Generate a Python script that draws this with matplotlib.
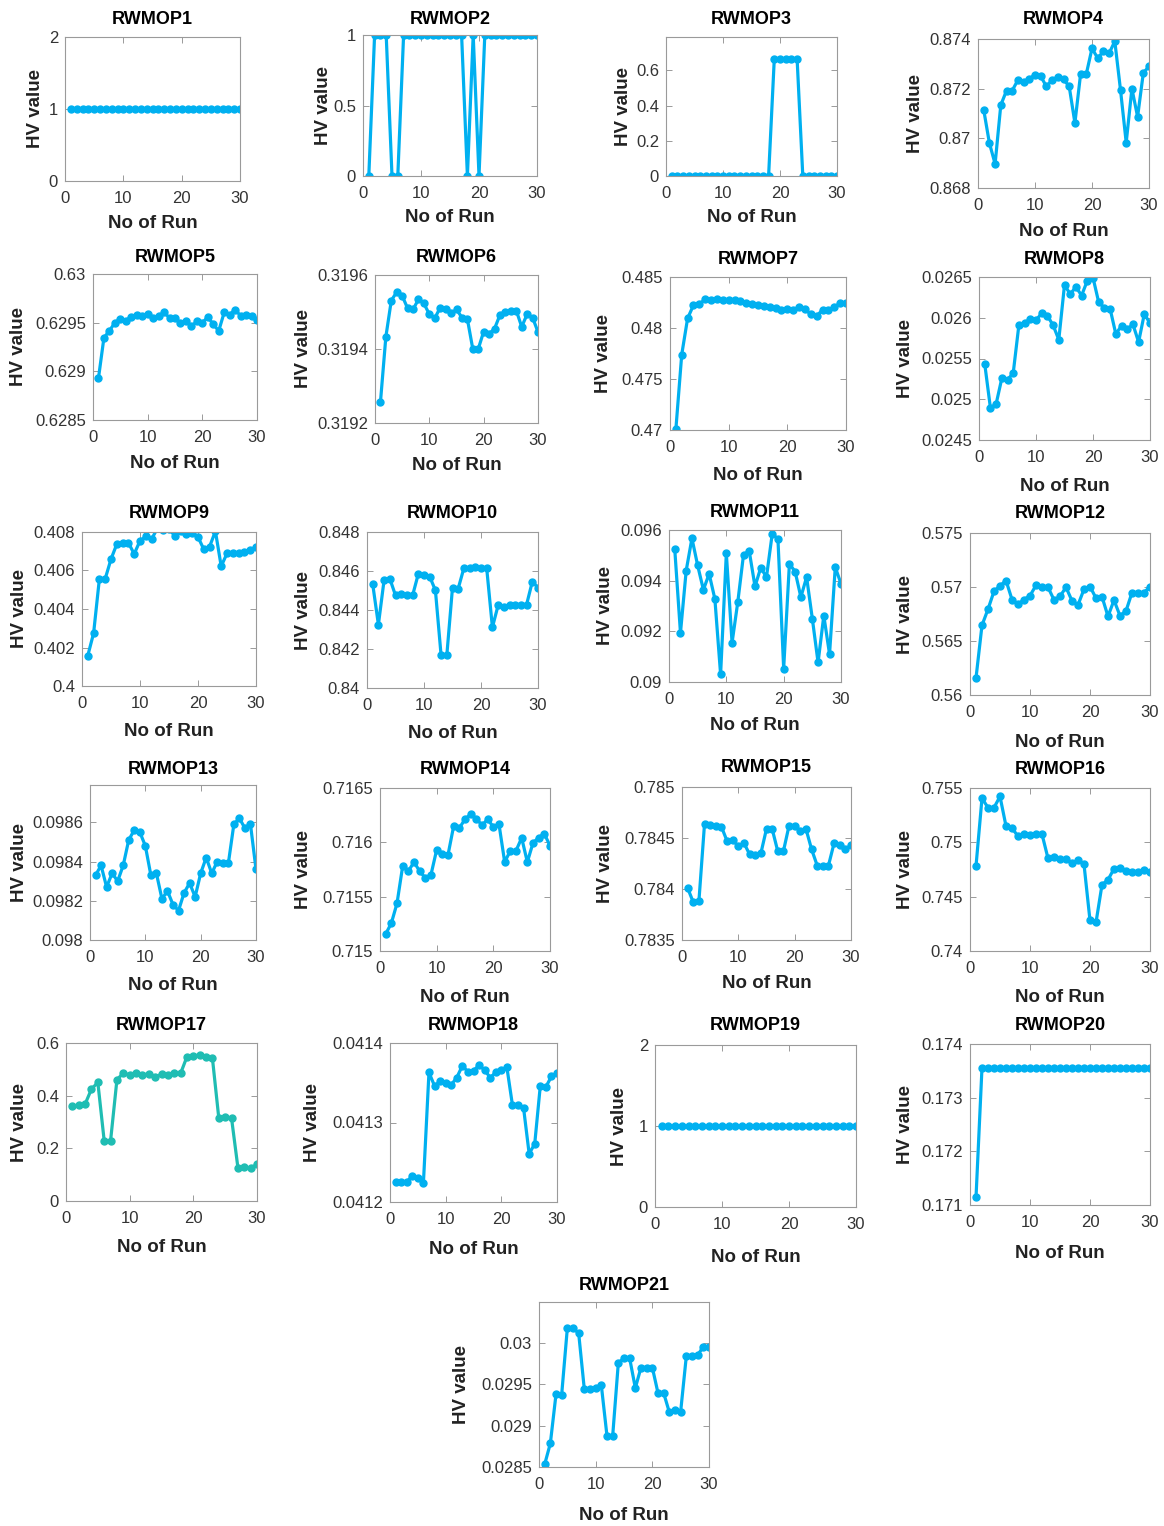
import matplotlib
matplotlib.use("Agg")
import matplotlib.pyplot as plt
from matplotlib.ticker import FuncFormatter

plt.rcParams['font.family'] = ['Liberation Sans', 'DejaVu Sans']

runs = list(range(1, 31))

titles = [f"RWMOP{i}" for i in range(1, 22)]

rwmop1 = [1.0] * 30
rwmop2 = [0, 1, 1, 1, 0, 0, 1, 1, 1, 1, 1, 1, 1, 1, 1, 1, 1, 0, 1, 0,
          1, 1, 1, 1, 1, 1, 1, 1, 1, 1]
rwmop3 = [0] * 18 + [0.6667] * 5 + [0] * 7
rwmop4 = [0.87115, 0.86981, 0.86897, 0.87134, 0.87192, 0.87192, 0.87235, 0.87227, 0.8724, 0.87256,
          0.8725, 0.87209, 0.87235, 0.87247, 0.87238, 0.87209, 0.87062, 0.87259, 0.87259, 0.87362,
          0.87323, 0.8735, 0.87342, 0.87391, 0.87195, 0.86983, 0.872, 0.87087, 0.87263, 0.8729]
rwmop5 = [0.62893, 0.629345, 0.629416, 0.6295, 0.629537, 0.62952, 0.62956, 0.629578, 0.62957, 0.629588,
          0.629544, 0.629568, 0.629605, 0.62955, 0.629544, 0.629497, 0.62952, 0.629463, 0.629514, 0.6295,
          0.629557, 0.629483, 0.629416, 0.629605, 0.629581, 0.629635, 0.62957, 0.62958, 0.629564, 0.62953]
rwmop6 = [0.319256, 0.319433, 0.319531, 0.319554, 0.319544, 0.31951, 0.319507, 0.319534, 0.319523, 0.319494,
          0.319483, 0.319512, 0.319507, 0.319496, 0.319507, 0.319485, 0.319481, 0.3194, 0.3194, 0.319447,
          0.319441, 0.319455, 0.319492, 0.319501, 0.319504, 0.319504, 0.31946, 0.319494, 0.319485, 0.319446]
rwmop7 = [0.47007, 0.4774, 0.48094, 0.48224, 0.48234, 0.48282, 0.48279, 0.48282, 0.48276, 0.48273,
          0.48273, 0.48266, 0.4825, 0.4824, 0.48227, 0.48211, 0.48208, 0.48192, 0.48179, 0.48182,
          0.48175, 0.48208, 0.48182, 0.48136, 0.48117, 0.48179, 0.48179, 0.48201, 0.48247, 0.48243]
rwmop8 = [0.025437, 0.024895, 0.024941, 0.025256, 0.02524, 0.02532, 0.025912, 0.025933, 0.025983, 0.02597,
          0.026055, 0.026025, 0.025908, 0.025731, 0.026403, 0.02629, 0.026378, 0.026273, 0.026454, 0.026492,
          0.02619, 0.026122, 0.02611, 0.025802, 0.0259, 0.025857, 0.02592, 0.025702, 0.026046, 0.025933]
rwmop9 = [0.40158, 0.40274, 0.40557, 0.40557, 0.40659, 0.40737, 0.40744, 0.40744, 0.40686, 0.40754,
          0.40777, 0.40763, 0.40819, 0.40809, 0.40814, 0.40781, 0.40804, 0.40791, 0.40795, 0.40774,
          0.4071, 0.40724, 0.40804, 0.40622, 0.40689, 0.40689, 0.40693, 0.40696, 0.40709, 0.40721]
rwmop10 = [0.84533, 0.84325, 0.84554, 0.84561, 0.84475, 0.8448, 0.84475, 0.84475, 0.84585, 0.8458,
           0.84571, 0.84501, 0.84167, 0.84167, 0.84515, 0.8451, 0.84615, 0.84615, 0.84621, 0.84614,
           0.84614, 0.84311, 0.84424, 0.84417, 0.84428, 0.84428, 0.84428, 0.84428, 0.84545, 0.84515]
rwmop11 = [0.09525, 0.09194, 0.0944, 0.09567, 0.0946, 0.09364, 0.09427, 0.09328, 0.0903, 0.09508,
           0.09155, 0.09316, 0.09503, 0.09516, 0.09377, 0.09451, 0.09414, 0.09584, 0.09565, 0.09053,
           0.09466, 0.09436, 0.09335, 0.09414, 0.0925, 0.09077, 0.09262, 0.0911, 0.09453, 0.09388]
rwmop12 = [0.56157, 0.56646, 0.56794, 0.5696, 0.5701, 0.5706, 0.56884, 0.5684, 0.56884, 0.56919,
           0.57016, 0.57004, 0.56998, 0.56881, 0.56913, 0.56998, 0.56872, 0.56834, 0.56979, 0.57004,
           0.56897, 0.5691, 0.56728, 0.56878, 0.56734, 0.56778, 0.56948, 0.56944, 0.56948, 0.57004]
rwmop13 = [0.09833, 0.09838, 0.09827, 0.09834, 0.0983, 0.09838, 0.09851, 0.09856, 0.09855, 0.09848,
           0.09833, 0.09834, 0.09821, 0.09825, 0.09818, 0.09815, 0.09824, 0.09829, 0.09822, 0.09834,
           0.09842, 0.09834, 0.0984, 0.09839, 0.09839, 0.09859, 0.09862, 0.09857, 0.09859, 0.09836]
rwmop14 = [0.715156, 0.715256, 0.715438, 0.715781, 0.715734, 0.715819, 0.715734, 0.715672, 0.715703, 0.715931,
           0.715891, 0.715884, 0.71615, 0.716131, 0.716213, 0.716259, 0.716219, 0.716156, 0.716213, 0.716141,
           0.716166, 0.715819, 0.715922, 0.715922, 0.716041, 0.715819, 0.715994, 0.716044, 0.716078, 0.715969]
rwmop15 = [0.78401, 0.78387, 0.78388, 0.78464, 0.78463, 0.78462, 0.78461, 0.78447, 0.78448, 0.78442,
           0.78445, 0.78434, 0.78433, 0.78435, 0.78459, 0.78459, 0.78437, 0.78437, 0.78462, 0.78462,
           0.78457, 0.78459, 0.78439, 0.78423, 0.78423, 0.78423, 0.78445, 0.78443, 0.78439, 0.78443]
rwmop16 = [0.74781, 0.75406, 0.75319, 0.75319, 0.75422, 0.7515, 0.75131, 0.75056, 0.75075, 0.75069,
           0.75075, 0.75075, 0.74853, 0.74869, 0.74844, 0.7485, 0.74806, 0.74834, 0.74797, 0.74281,
           0.74263, 0.74609, 0.74656, 0.74756, 0.74766, 0.74734, 0.74728, 0.74728, 0.74744, 0.74731]
rwmop17 = [0.359, 0.3628, 0.3679, 0.425, 0.4503, 0.2284, 0.2284, 0.4605, 0.4859, 0.4783,
           0.4859, 0.4796, 0.482, 0.4694, 0.482, 0.4796, 0.4859, 0.4846, 0.548, 0.5493,
           0.5556, 0.548, 0.5417, 0.3147, 0.3172, 0.3147, 0.127, 0.1295, 0.1244, 0.1396]
rwmop18 = [0.0412248, 0.0412257, 0.0412253, 0.0412328, 0.0412303, 0.0412236, 0.0413629, 0.0413461, 0.0413516, 0.0413503,
           0.0413474, 0.0413566, 0.0413714, 0.0413638, 0.041365, 0.0413722, 0.0413659, 0.0413566, 0.0413629, 0.0413659,
           0.0413693, 0.0413217, 0.0413217, 0.0413179, 0.0412606, 0.0412733, 0.0413461, 0.0413448, 0.0413579, 0.0413617]
rwmop19 = [1.0] * 30
rwmop20 = [0.17114] + [0.17356] * 29
rwmop21 = [0.028532, 0.028784, 0.029376, 0.029372, 0.030174, 0.030174, 0.030114, 0.029436, 0.029445, 0.029453,
           0.029485, 0.028873, 0.028873, 0.029757, 0.02981, 0.02981, 0.029453, 0.0297, 0.0297, 0.0297,
           0.029392, 0.029392, 0.029161, 0.029189, 0.029169, 0.029838, 0.029838, 0.02985, 0.029951, 0.029951]

series = [rwmop1, rwmop2, rwmop3, rwmop4, rwmop5, rwmop6, rwmop7, rwmop8, rwmop9, rwmop10,
          rwmop11, rwmop12, rwmop13, rwmop14, rwmop15, rwmop16, rwmop17, rwmop18, rwmop19, rwmop20, rwmop21]

yticks = [
    [0, 1, 2], [0, 0.5, 1], [0, 0.2, 0.4, 0.6], [0.868, 0.87, 0.872, 0.874],
    [0.6285, 0.629, 0.6295, 0.63], [0.3192, 0.3194, 0.3196], [0.47, 0.475, 0.48, 0.485],
    [0.0245, 0.025, 0.0255, 0.026, 0.0265],
    [0.4, 0.402, 0.404, 0.406, 0.408], [0.84, 0.842, 0.844, 0.846, 0.848],
    [0.09, 0.092, 0.094, 0.096], [0.56, 0.565, 0.57, 0.575],
    [0.098, 0.0982, 0.0984, 0.0986], [0.715, 0.7155, 0.716, 0.7165],
    [0.7835, 0.784, 0.7845, 0.785], [0.74, 0.745, 0.75, 0.755],
    [0, 0.2, 0.4, 0.6], [0.0412, 0.0413, 0.0414], [0, 1, 2], [0.171, 0.172, 0.173, 0.174],
    [0.0285, 0.029, 0.0295, 0.03],
]
ylims = [
    (0, 2), (0, 1), (0, 0.79), (0.868, 0.874), (0.6285, 0.63), (0.3192, 0.3196), (0.47, 0.485),
    (0.0245, 0.0265), (0.4, 0.408), (0.84, 0.848), (0.09, 0.096), (0.56, 0.575),
    (0.098, 0.09879), (0.715, 0.7165), (0.7835, 0.785), (0.74, 0.755), (0, 0.6),
    (0.0412, 0.0414), (0, 2), (0.171, 0.174), (0.0285, 0.03049),
]
xticks = [0, 10, 20, 30]

# layout in pixels: (left, right, top, bottom), title y, xlabel y, ylabel x
layout = [
    ((65, 240, 37, 181), 20, 224, 35),
    ((363, 537, 35, 176), 20, 217, 323),
    ((666, 837, 37, 176), 20, 218, 624),
    ((978, 1149, 39, 188), 20, 232, 916),
    ((93, 257, 274, 420), 258, 463, 19),
    ((375, 538, 275, 423), 258, 466, 303),
    ((670, 846, 277, 430), 259, 475, 604),
    ((979, 1150, 277, 440), 259, 487, 905),
    ((82, 256, 532, 686), 514, 731, 19),
    ((367, 538, 532, 688), 514, 733, 304),
    ((669, 841, 530, 682), 513, 726, 605),
    ((970, 1150, 533, 695), 514, 742, 905),
    ((90, 256, 785, 940), 769, 986, 19),
    ((380, 550, 788, 951), 770, 998, 304),
    ((682, 851, 787, 940), 768, 984, 606),
    ((970, 1150, 788, 951), 770, 998, 905),
    ((66, 257, 1043, 1201), 1025, 1247, 19),
    ((390, 557, 1043, 1202), 1025, 1249, 313),
    ((655, 856, 1045, 1207), 1026, 1258, 620),
    ((970, 1150, 1044, 1205), 1026, 1253, 905),
    ((539, 709, 1302, 1467), 1285, 1515, 462),
]

W, H = 1164, 1526
fig = plt.figure(figsize=(W / 100, H / 100), dpi=100)
fig.patch.set_facecolor('white')

blue = '#00B0F0'
teal = '#1FBDB3'
fmt = FuncFormatter(lambda v, p: f"{v:g}")

for i, (vals, title) in enumerate(zip(series, titles)):
    (L, R, T, B), ty, xly, ylx = layout[i]
    ax = fig.add_axes([L / W, 1 - B / H, (R - L) / W, (B - T) / H])
    color = teal if i == 16 else blue
    ax.plot(runs, vals, '-o', color=color, lw=2.3, ms=5, mec=color, mfc=color)
    ax.set_xlim(0, 30)
    ax.set_ylim(*ylims[i])
    ax.set_xticks(xticks)
    ax.set_yticks(yticks[i])
    ax.yaxis.set_major_formatter(fmt)
    ax.xaxis.set_major_formatter(fmt)
    ax.tick_params(direction='in', top=True, right=True, length=4, width=0.6,
                   colors='#8a8a8a', labelcolor='#333333', labelsize=12)
    ax.tick_params(axis='y', pad=5)
    ax.tick_params(axis='x', pad=7)
    for s in ax.spines.values():
        s.set_color('#9a9a9a')
        s.set_linewidth(0.8)
    h = B - T
    w = R - L
    ax.text(0.5, 1 + (T - ty) / h, title, transform=ax.transAxes, ha='center', va='center',
            fontsize=13, fontweight='bold', color='black')
    ax.set_xlabel('No of Run', fontsize=13.5, fontweight='bold', color='#222222', va='center')
    ax.xaxis.set_label_coords(0.5, -(xly - B) / h)
    ax.set_ylabel('HV value', fontsize=13.5, fontweight='bold', color='#222222', va='center')
    ax.yaxis.set_label_coords(-(L - ylx) / w, 0.5)

fig.savefig('out.png', dpi=100, facecolor='white')
